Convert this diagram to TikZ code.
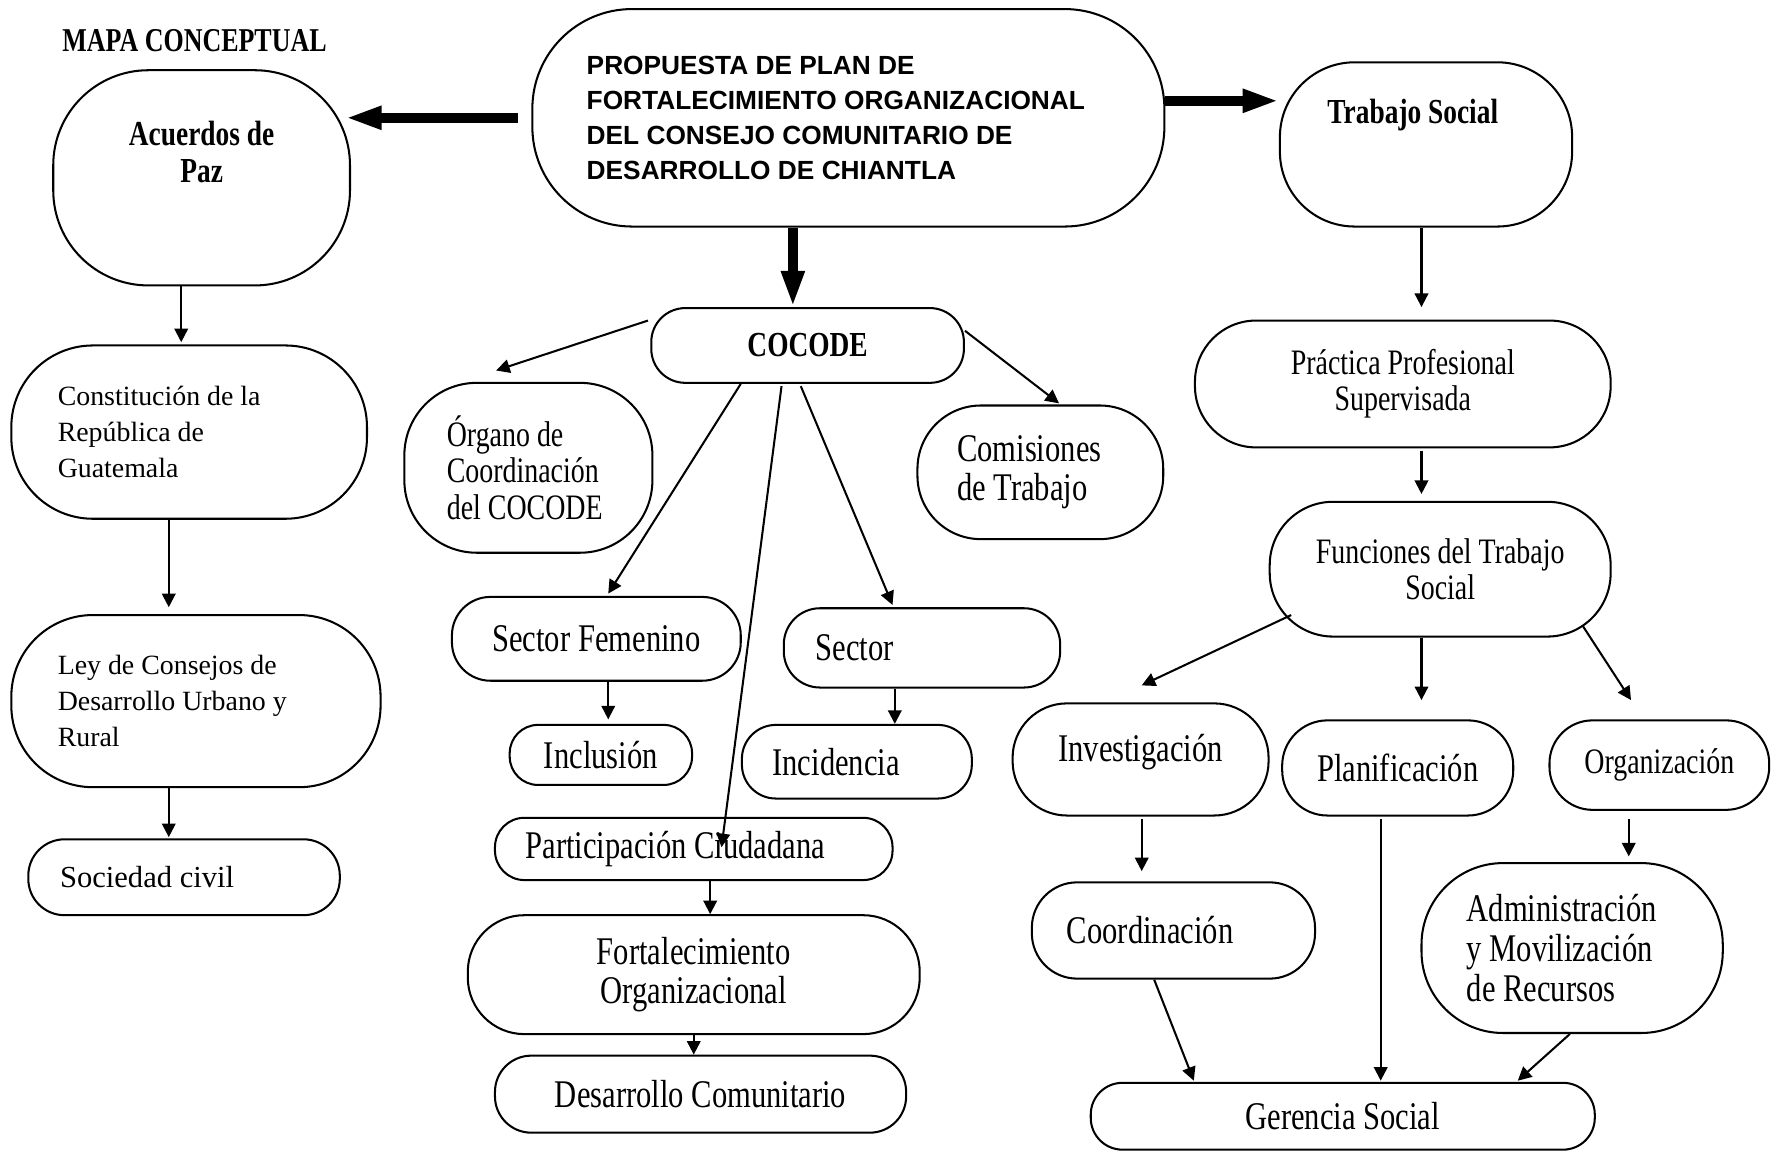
\documentclass[tikz,border=0pt]{standalone}
\usepackage{fontspec}
\setmainfont{Liberation Serif}
\newfontfamily\condfont[FakeStretch=0.78]{Liberation Serif}
\newfontfamily\headfont{Liberation Sans}
\usepackage{tikz}
\usetikzlibrary{positioning,calc,arrows.meta}
\tikzset{
  conceptBox/.style={
    rectangle,
    rounded corners=#1,
    draw=black,
    line width=0.9pt,
    inner sep=2pt,
    align=center
  },
  headText/.style={font=\headfont\bfseries\fontsize{11.6}{15.5}\selectfont},
  titleText/.style={font=\condfont\bfseries\fontsize{14.7}{16}\selectfont},
  boldText/.style={font=\condfont\bfseries\fontsize{15.5}{16}\selectfont},
  bigText/.style={font=\condfont\fontsize{17.3}{17.5}\selectfont},
  smallText/.style={font=\condfont\fontsize{15.8}{16}\selectfont},
  plainText/.style={font=\fontsize{12.3}{15.75}\selectfont},
  arrowLine/.style={
    -{Triangle[length=6pt,width=6pt]},
    line width=0.9pt
  },
  thickArrow/.style={
    -{Triangle[length=16pt,width=9.5pt]},
    line width=4.5pt
  }
}

\begin{document}
\begin{tikzpicture}[x=0.5pt,y=-0.5pt]
        \useasboundingbox (0,0) rectangle (1568,1017);

        \node[titleText, anchor=west] (mapa) at (48,36) {MAPA CONCEPTUAL};

        \node[conceptBox=44pt, minimum width=279pt, minimum height=96pt, headText, text width=231pt, align=flush left] (propuesta) at (749,104)
            {PROPUESTA DE PLAN DE\\FORTALECIMIENTO ORGANIZACIONAL\\DEL CONSEJO COMUNITARIO DE\\DESARROLLO DE CHIANTLA};
        \node[conceptBox=42pt, minimum width=131pt, minimum height=95pt, boldText] (acuerdos) at (178,157) {Acuerdos de\\Paz\\[7pt]~};
        \node[conceptBox=33pt, minimum width=129pt, minimum height=72.5pt, boldText, text width=87pt, align=flush left] (trabajo) at (1259,127.5)
            {Trabajo Social\\[13pt]~};

        \draw[thickArrow] ($(propuesta.west)+(-12,0)$) -- ($(acuerdos.center)+(127,-53)$);
        \draw[thickArrow] ($(propuesta.east)+(0,-15)$) -- ($(trabajo.west)+(0,-38.5)$);

        % left column
        \node[conceptBox=36pt, minimum width=157pt, minimum height=76.5pt, plainText, text width=116pt, align=flush left] (constitucion) at (167,381.5)
            {Constitución de la\\República de\\Guatemala};
        \node[conceptBox=36pt, minimum width=163pt, minimum height=76pt, plainText, text width=122pt, align=flush left] (ley) at (173,619)
            {Ley de Consejos de\\Desarrollo Urbano y\\Rural};
        \node[conceptBox=16pt, minimum width=137.5pt, minimum height=33.5pt, plainText, font=\fontsize{13.5}{16}\selectfont, text width=109.5pt, align=flush left] (sociedad) at (162.5,774.5)
            {Sociedad civil};

        \draw[arrowLine] ($(acuerdos.south)+(-18,0)$) -- ($(constitucion.north)+(-7,-2)$);
        \draw[arrowLine] ($(constitucion.south)+(-18,0)$) -- ($(ley.north)+(-24,-6)$);
        \draw[arrowLine] ($(ley.south)+(-24,0)$) -- ($(sociedad.north)+(-13.5,-1)$);

        % middle column
        \node[conceptBox=15pt, minimum width=138pt, minimum height=33pt, boldText] (cocode) at (713,305) {COCODE};
        \node[conceptBox=32pt, minimum width=109.5pt, minimum height=75pt, smallText, text width=72pt, align=flush left] (organo) at (466.5,413)
            {Órgano de\\Coordinación\\del COCODE};
        \node[conceptBox=28pt, minimum width=108.5pt, minimum height=59pt, bigText, text width=73.5pt, align=flush left] (comisiones) at (918.5,417)
            {Comisiones\\de Trabajo};
        \node[conceptBox=17pt, minimum width=127.5pt, minimum height=37pt, bigText] (femenino) at (526.5,564) {Sector Femenino};
        \node[conceptBox=16pt, minimum width=122pt, minimum height=35pt, bigText, text width=94pt, align=flush left] (sector) at (814,572) {Sector};
        \node[conceptBox=12.5pt, minimum width=80.5pt, minimum height=26.5pt, bigText] (inclusion) at (530.5,666.5) {Inclusión};
        \node[conceptBox=15pt, minimum width=101.5pt, minimum height=32.5pt, bigText, text width=74.5pt, align=flush left] (incidencia) at (756.5,672.5) {Incidencia};
        \node[conceptBox=13pt, minimum width=175.5pt, minimum height=27.5pt, bigText, text width=148.5pt, align=flush left] (participacion) at (612.5,749.5)
            {Participación Ciudadana};
        \node[conceptBox=25pt, minimum width=199.5pt, minimum height=52.5pt, bigText] (fortalecimiento) at (612.5,860.5)
            {Fortalecimiento\\Organizacional};
        \node[conceptBox=16pt, minimum width=181.5pt, minimum height=34pt, bigText] (desarrollo) at (618.5,966) {Desarrollo Comunitario};

        \draw[thickArrow] ($(propuesta.south)+(-49,0)$) -- ($(cocode.north)+(-13,0)$);
        \draw[arrowLine] ($(cocode.west)+(-2,-22)$) -- ($(organo.north)+(-28.5,-10)$);
        \draw[arrowLine] ($(cocode.east)+(0,-13)$) -- ($(comisiones.north)+(16.5,-1)$);
        \draw[arrowLine] ($(cocode.south)+(-59,0)$) -- ($(femenino.north)+(10.5,-2)$);
        \draw[arrowLine] ($(cocode.south)+(-23,2)$) -- ($(participacion.center)+(24.5,-1.5)$);
        \draw[arrowLine] ($(cocode.south)+(-6,2)$) -- ($(sector.north)+(-26,-2)$);
        \draw[arrowLine] ($(femenino.south)+(10.5,0)$) -- ($(inclusion.north)+(6.5,-4)$);
        \draw[arrowLine] ($(sector.south)+(-24,0)$) -- ($(incidencia.north)+(33.5,0)$);
        \draw[arrowLine] ($(participacion.south)+(14.5,-2)$) -- ($(fortalecimiento.north)+(14.5,0)$);
        \draw[arrowLine] (fortalecimiento.south) -- (fortalecimiento.south |- desarrollo.north);

        % right column
        \node[conceptBox=27pt, minimum width=183.5pt, minimum height=56pt, smallText] (practica) at (1238.5,339)
            {Práctica Profesional\\Supervisada};
        \node[conceptBox=28pt, minimum width=150.5pt, minimum height=59.5pt, smallText] (funciones) at (1271.5,502.5)
            {Funciones del Trabajo\\Social};
        \node[conceptBox=24pt, minimum width=113pt, minimum height=49.5pt, bigText] (investigacion) at (1007,670.5) {Investigación\\[-7pt]~};
        \node[conceptBox=20pt, minimum width=102pt, minimum height=42pt, bigText] (planificacion) at (1234,678) {Planificación};
        \node[conceptBox=19pt, minimum width=97pt, minimum height=39.5pt, smallText] (organizacion) at (1465,675.5) {Organización};
        \node[conceptBox=20pt, minimum width=125pt, minimum height=42.5pt, bigText, text width=94pt, align=flush left] (coordinacion) at (1036,821.5) {Coordinación};
        \node[conceptBox=36pt, minimum width=133pt, minimum height=75pt, bigText, text width=93pt, align=flush left] (administracion) at (1388,837)
            {Administración\\y Movilización\\de Recursos};
        \node[conceptBox=14pt, minimum width=222.5pt, minimum height=29.5pt, bigText] (gerencia) at (1185.5,985.5) {Gerencia Social};

        \draw[arrowLine] ($(trabajo.south)+(-4,0)$) -- ($(practica.north)+(16.5,-11)$);
        \draw[arrowLine] ($(practica.south)+(16.5,2)$) -- ($(funciones.north)+(-16.5,-6)$);
        \draw[arrowLine] ($(funciones.center)+(-131.5,40.5)$) -- ($(investigacion.north)+(1,-15)$);
        \draw[arrowLine] ($(funciones.south)+(-16.5,0)$) -- ($(planificacion.north)+(21,-17)$);
        \draw[arrowLine] ($(funciones.center)+(125.5,49.5)$) -- ($(organizacion.north)+(-25,-17)$);
        \draw[arrowLine] ($(investigacion.south)+(1,2)$) -- ($(coordinacion.north)+(-28,-9)$);
        \draw[arrowLine] ($(organizacion.south)+(-27,7)$) -- ($(administracion.north)+(50,-5)$);
        \draw[arrowLine] ($(coordinacion.south)+(-17,0)$) -- ($(gerencia.north)+(-131.5,-1)$);
        \draw[arrowLine] ($(planificacion.south)+(-15,2)$) -- ($(gerencia.north)+(33.5,-1)$);
        \draw[arrowLine] ($(administracion.south)+(-2,0)$) -- ($(gerencia.north)+(154.5,-1)$);

    \end{tikzpicture}
\end{document}
